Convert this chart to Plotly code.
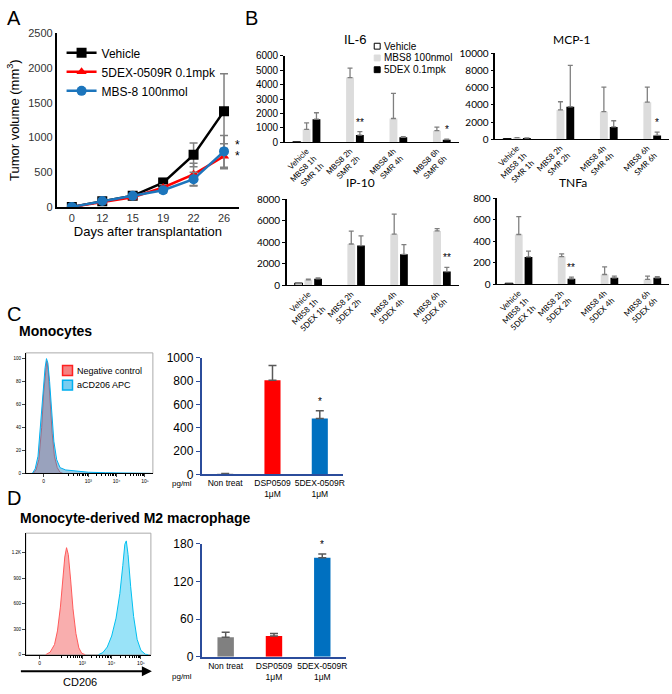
import numpy as np
import plotly.graph_objects as go

W, H = 672, 694
def px_x(p): return p / W
def px_y(p): return 1 - p / H

# ---------------- Panel A data ----------------
days = ["0", "12", "15", "19", "22", "26"]
vehicle_vol = [0, 80, 160, 350, 750, 1380]
vehicle_err = [0, 20, 20, 60, 170, 540]
dex_vol = [0, 70, 140, 280, 470, 730]
dex_err = [0, 15, 20, 40, 160, 180]
mbs_vol = [0, 85, 160, 240, 400, 800]
mbs_err = [0, 15, 20, 40, 100, 230]

# ---------------- Panel B data ----------------
cats_smr = ["Vehicle<br>MBS8 1h<br>SMR 1h", "MBS8 2h<br>SMR 2h", "MBS8 4h<br>SMR 4h", "MBS8 6h<br>SMR 6h"]
cats_dex = ["Vehicle<br>MBS8 1h<br>5DEX 1h", "MBS8 2h<br>5DEX 2h", "MBS8 4h<br>5DEX 4h", "MBS8 6h<br>5DEX 6h"]
b_series = ["Vehicle", "MBS8 100nmol", "5DEX 0.1mpk"]

il6_veh = [30, None, None, None]
il6_mbs = [900, 4500, 1650, 800]
il6_mbs_err = [450, 650, 1750, 250]
il6_dex = [1600, 500, 340, 180]
il6_dex_err = [450, 230, 40, 40]

mcp_veh = [80, None, None, None]
mcp_mbs = [200, 3400, 3200, 4300]
mcp_mbs_err = [0, 950, 2840, 1750]
mcp_dex = [150, 3770, 1430, 450]
mcp_dex_err = [0, 4800, 720, 380]

ip_veh = [210, None, None, None]
ip_mbs = [510, 3830, 4740, 5040]
ip_mbs_err = [50, 1200, 1870, 220]
ip_dex = [600, 3680, 2870, 1270]
ip_dex_err = [80, 900, 900, 390]

tnf_veh = [10, None, None, None]
tnf_mbs = [462, 257, 91, 45]
tnf_mbs_err = [166, 25, 70, 30]
tnf_dex = [254, 51, 60, 60]
tnf_dex_err = [54, 15, 15, 10]

# ---------------- Panel C / D bar data ----------------
treat_cats = ["Non treat", "DSP0509<br>1μM", "5DEX-0509R<br>1μM"]
c_vals = [5, 808, 479]
c_err = [3, 125, 67]
d_vals = [31, 33, 158]
d_err = [8, 4, 6]
bar_colors = ["#808080", "#FF0000", "#0070C0"]

# ---------------- Histogram data (flow cytometry) ----------------
hist_names = ["Negative control", "aCD206 APC"]
hc_neg_x = [1.05, 1.15, 1.25, 1.35, 1.42, 1.48, 1.53, 1.58, 1.65, 1.72, 1.80, 1.90, 2.00, 2.10]
hc_neg_y = [0, 3, 12, 40, 70, 88, 98, 90, 62, 35, 15, 5, 1, 0]
hc_cd_x = [1.02, 1.12, 1.22, 1.32, 1.40, 1.47, 1.52, 1.57, 1.63, 1.70, 1.78, 1.88, 2.00, 2.20, 2.50, 3.00, 3.60, 4.30, 5.20]
hc_cd_y = [0, 4, 15, 45, 72, 92, 100, 96, 80, 55, 28, 12, 5, 3, 2, 1, 0.6, 0.3, 0]

hd_neg_x = [1.75, 1.90, 2.05, 2.15, 2.25, 2.33, 2.40, 2.46, 2.52, 2.60, 2.68, 2.78, 2.88, 2.98, 3.10]
hd_neg_y = [0, 30, 120, 280, 560, 880, 1150, 1260, 1180, 880, 540, 250, 80, 15, 0]
hd_cd_x = [3.55, 3.70, 3.85, 4.00, 4.15, 4.28, 4.38, 4.45, 4.50, 4.56, 4.65, 4.75, 4.87, 5.00, 5.15, 5.25]
hd_cd_y = [0, 25, 90, 220, 430, 720, 1050, 1300, 1340, 1180, 800, 450, 180, 50, 5, 0]

FONT = "Liberation Sans, Arial, sans-serif"
CAL = "Lato, Liberation Sans, sans-serif"
GREY_ERR = "#7F7F7F"
VEH_STYLE = dict(color="white", line=dict(color="black", width=1))
MBS_STYLE = dict(color="#DCDCDC", line=dict(width=0))
DEX_STYLE = dict(color="black", line=dict(width=0))

fig = go.Figure()

# ---------------- Panel A ----------------
for name, y, e, col, sym, size in [
    ("Vehicle", vehicle_vol, vehicle_err, "#000000", "square", 10),
    ("5DEX-0509R 0.1mpk", dex_vol, dex_err, "#FF0000", "triangle-up", 9),
    ("MBS-8 100nmol", mbs_vol, mbs_err, "#1C75BC", "circle", 10),
]:
    fig.add_trace(go.Scatter(
        x=days, y=y, name=name, mode="lines+markers",
        line=dict(color=col, width=2.5),
        marker=dict(symbol=sym, size=size, color=col),
        error_y=dict(type="data", array=e, color=GREY_ERR, thickness=1.5, width=4),
        xaxis="x", yaxis="y"))

# ---------------- Panel B ----------------
def add_cyto(cats, veh, mbs, mbs_err, dex, dex_err, ax):
    zeros = [0, 0, 0, 0]
    fig.add_trace(go.Bar(x=cats, y=veh, name=b_series[0], marker=VEH_STYLE,
                         xaxis="x" + ax, yaxis="y" + ax, showlegend=False))
    fig.add_trace(go.Bar(x=cats, y=mbs, name=b_series[1], marker=MBS_STYLE,
                         error_y=dict(type="data", array=mbs_err, arrayminus=zeros, symmetric=False,
                                      color=GREY_ERR, thickness=1.3, width=2.5),
                         xaxis="x" + ax, yaxis="y" + ax, showlegend=False))
    fig.add_trace(go.Bar(x=cats, y=dex, name=b_series[2], marker=DEX_STYLE,
                         error_y=dict(type="data", array=dex_err, arrayminus=zeros, symmetric=False,
                                      color=GREY_ERR, thickness=1.3, width=2.5),
                         xaxis="x" + ax, yaxis="y" + ax, showlegend=False))

add_cyto(cats_smr, il6_veh, il6_mbs, il6_mbs_err, il6_dex, il6_dex_err, "2")
add_cyto(cats_smr, mcp_veh, mcp_mbs, mcp_mbs_err, mcp_dex, mcp_dex_err, "3")
add_cyto(cats_dex, ip_veh, ip_mbs, ip_mbs_err, ip_dex, ip_dex_err, "4")
add_cyto(cats_dex, tnf_veh, tnf_mbs, tnf_mbs_err, tnf_dex, tnf_dex_err, "5")

# ---------------- Panel C histogram ----------------
fig.add_trace(go.Scatter(x=hc_neg_x, y=hc_neg_y, name=hist_names[0], mode="lines", fill="tozeroy",
                         line=dict(color="#FF3030", width=1), fillcolor="rgba(255,90,90,0.55)",
                         xaxis="x6", yaxis="y6", showlegend=False))
fig.add_trace(go.Scatter(x=hc_cd_x, y=hc_cd_y, name=hist_names[1], mode="lines", fill="tozeroy",
                         line=dict(color="#00B0F0", width=1), fillcolor="rgba(70,160,210,0.55)",
                         xaxis="x6", yaxis="y6", showlegend=False))

# ---------------- Panel C bars ----------------
fig.add_trace(go.Bar(x=treat_cats, y=c_vals, marker=dict(color=bar_colors, line=dict(width=0)), width=0.34,
                     error_y=dict(type="data", array=c_err, arrayminus=[0, 0, 0], symmetric=False,
                                  color="#595959", thickness=1.5, width=4),
                     xaxis="x7", yaxis="y7", showlegend=False))

# ---------------- Panel D histogram ----------------
fig.add_trace(go.Scatter(x=hd_neg_x, y=hd_neg_y, mode="lines", fill="tozeroy",
                         line=dict(color="#FF5A5A", width=1), fillcolor="rgba(245,120,120,0.6)",
                         xaxis="x8", yaxis="y8", showlegend=False))
fig.add_trace(go.Scatter(x=hd_cd_x, y=hd_cd_y, mode="lines", fill="tozeroy",
                         line=dict(color="#00C0F0", width=1), fillcolor="rgba(110,215,245,0.7)",
                         xaxis="x8", yaxis="y8", showlegend=False))

# ---------------- Panel D bars ----------------
fig.add_trace(go.Bar(x=treat_cats, y=d_vals, marker=dict(color=bar_colors, line=dict(width=0)), width=0.34,
                     error_y=dict(type="data", array=d_err, arrayminus=[0, 0, 0], symmetric=False,
                                  color="#595959", thickness=1.5, width=4),
                     xaxis="x9", yaxis="y9", showlegend=False))

# ---------------- Axes ----------------
def xdom(a, b): return [px_x(a), px_x(b)]
def ydom(bot, top): return [px_y(bot), px_y(top)]

lay = dict(
    width=W, height=H, margin=dict(l=0, r=0, t=0, b=0),
    paper_bgcolor="white", plot_bgcolor="white",
    font=dict(family=FONT, color="black", size=11),
    barmode="group", bargap=0.32, bargroupgap=0.2,
)

lay["xaxis"] = dict(domain=xdom(53, 237), range=[-0.5, 5.5], type="category", showline=True, linecolor="black",
                    linewidth=1.5, ticks="", showgrid=False, zeroline=False, tickfont=dict(size=11, color="#333"),
                    title=dict(text="Days after transplantation", font=dict(size=13), standoff=4), anchor="y")
lay["yaxis"] = dict(domain=ydom(204, 27), range=[0, 2500], dtick=500, showline=True, linecolor="black",
                    linewidth=1.5, ticks="", showgrid=False, zeroline=False, tickfont=dict(size=11, color="#333"),
                    title=dict(text="Tumor volume (mm<sup>3</sup>)", font=dict(size=13), standoff=6), anchor="x")

b_specs = {
    "2": (283, 458, 138, 50, 6000, 1000, FONT, 10),
    "3": (495, 670, 135, 47, 10000, 2000, CAL, 10),
    "4": (285, 458, 284, 196, 8000, 2000, CAL, 10),
    "5": (497, 670, 283, 195, 800, 200, CAL, 10),
}
for k, (x0, x1, yb, yt, ymax, dt, fam, fs) in b_specs.items():
    lay["xaxis" + k] = dict(domain=xdom(x0, x1), range=[-0.5, 3.5], type="category", showline=True,
                            linecolor="black", linewidth=1.2, ticks="", tickangle=-45, showgrid=False,
                            zeroline=False, tickfont=dict(size=8, family=fam), anchor="y" + k)
    lay["yaxis" + k] = dict(domain=ydom(yb, yt), range=[0, ymax], dtick=dt, showline=True, linecolor="black",
                            linewidth=1.5, ticks="outside", ticklen=3, tickcolor="black", showgrid=False,
                            zeroline=False, tickfont=dict(size=fs, family=fam), anchor="x" + k,
                            tickformat="d")

minor_vals = [d + np.log10(k) for d in (2, 3, 4) for k in range(2, 10)]
lay["xaxis6"] = dict(domain=xdom(22, 150), range=[0.79, 5.28], tickvals=[1.42, 3, 4, 5],
                     ticktext=["0", "10³", "10⁴", "10⁵"], showline=True, linecolor="black", linewidth=1,
                     ticks="outside", ticklen=3, showgrid=False, zeroline=False, tickfont=dict(size=5),
                     minor=dict(tickvals=minor_vals, ticks="outside", ticklen=2, tickcolor="black"), anchor="y6")
lay["yaxis6"] = dict(domain=ydom(476, 353), range=[0, 105], tickvals=[0, 20, 40, 60, 80, 100], showline=True,
                     linecolor="black", linewidth=1, ticks="outside", ticklen=3, showgrid=False, zeroline=False,
                     tickfont=dict(size=4.5), anchor="x6")
BL = "#2B4C9B"
lay["xaxis7"] = dict(domain=xdom(199, 342), range=[-0.5, 2.5], type="category", showline=True, linecolor=BL,
                     linewidth=1.5, ticks="", tickangle=0, showgrid=False, zeroline=False,
                     tickfont=dict(size=8.5), anchor="y7")
lay["yaxis7"] = dict(domain=ydom(477, 358), range=[0, 1000], dtick=200, showline=True, linecolor=BL,
                     linewidth=1.5, ticks="outside", ticklen=4, tickcolor=BL, showgrid=False, zeroline=False,
                     tickfont=dict(size=12), anchor="x7")
lay["xaxis8"] = dict(domain=xdom(22, 148), range=[1.07, 5.34], tickvals=[1.54, 3, 4, 5],
                     ticktext=["0", "10³", "10⁴", "10⁵"], showline=True, linecolor="black", linewidth=1,
                     ticks="outside", ticklen=3, showgrid=False, zeroline=False, tickfont=dict(size=5),
                     minor=dict(tickvals=minor_vals, ticks="outside", ticklen=2, tickcolor="black"), anchor="y8")
lay["yaxis8"] = dict(domain=ydom(661, 537), range=[0, 1431], tickvals=[0, 300, 600, 900, 1200],
                     ticktext=["0", "300", "600", "900", "1.2K"], showline=True, linecolor="black", linewidth=1,
                     ticks="outside", ticklen=3, showgrid=False, zeroline=False, tickfont=dict(size=4.5), anchor="x8")
lay["xaxis9"] = dict(domain=xdom(199, 345), range=[-0.5, 2.5], type="category", showline=True, linecolor=BL,
                     linewidth=1.5, ticks="", tickangle=0, showgrid=False, zeroline=False,
                     tickfont=dict(size=8.5), anchor="y9")
lay["yaxis9"] = dict(domain=ydom(663, 548), range=[0, 180], dtick=60, showline=True, linecolor=BL,
                     linewidth=1.5, ticks="outside", ticklen=4, tickcolor=BL, showgrid=False, zeroline=False,
                     tickfont=dict(size=12), anchor="x9")

lay["legend"] = dict(x=px_x(58), y=px_y(32), xanchor="left", yanchor="top", bgcolor="rgba(0,0,0,0)",
                     font=dict(size=12), tracegroupgap=0, itemwidth=30)

fig.update_layout(**lay)

for k in ("6", "8"):
    fig.add_shape(type="rect", xref=f"x{k} domain", yref=f"y{k} domain", x0=0, x1=1, y0=0, y1=1,
                  line=dict(color="#AAAAAA", width=1), layer="below")

ann = []
def txt(x, y, t, size=11, anchor="left", bold=False, fam=FONT, color="black"):
    ann.append(dict(x=px_x(x), y=px_y(y), xref="paper", yref="paper", text=("<b>%s</b>" % t) if bold else t,
                    showarrow=False, xanchor=anchor, yanchor="middle",
                    font=dict(size=size, family=fam, color=color)))

def swatch(x0, y0, size, fill, line, lw=1):
    fig.add_shape(type="rect", xref="paper", yref="paper", x0=px_x(x0), x1=px_x(x0 + size),
                  y0=px_y(y0 + size), y1=px_y(y0), fillcolor=fill, line=dict(color=line, width=lw))

b_leg_styles = [("white", "black"), ("#DCDCDC", "#DCDCDC"), ("black", "black")]
for i, (nm, (fc, lc)) in enumerate(zip(b_series, b_leg_styles)):
    yc = 40 + 12 * i
    swatch(373, yc - 3, 6, fc, lc)
    txt(381, yc, nm, 10)

c_leg_styles = [("rgba(245,130,130,1)", "#FF2020"), ("rgba(120,205,240,1)", "#00B0F0")]
for i, (nm, (fc, lc)) in enumerate(zip(hist_names, c_leg_styles)):
    yc = 371 + 15 * i
    swatch(59, yc - 5, 10, fc, lc, lw=1.5)
    txt(72, yc, nm, 9)

txt(1, 11, "A", 20)
txt(241, 11, "B", 20)
txt(1, 313, "C", 20)
txt(1, 501, "D", 20)
txt(13, 331, "Monocytes", 14, bold=True)
txt(14, 522, "Monocyte-derived M2 macrophage", 14, bold=True)
txt(77, 689, "CD206", 11, anchor="center")
txt(179, 486, "pg/ml", 8, anchor="center")
txt(179, 683, "pg/ml", 8, anchor="center")
txt(354, 33, "IL-6", 13, anchor="center")
txt(572, 33, "MCP-1", 12, anchor="center", fam=CAL)
txt(359, 179, "IP-10", 12, anchor="center", fam=CAL)
txt(573, 179, "TNFa", 12, anchor="center", fam=CAL)

ann.append(dict(x=px_x(149), y=px_y(678), xref="paper", yref="paper", ax=-134, ay=0, text=" ",
                showarrow=True, arrowhead=2, arrowsize=1, arrowwidth=2, arrowcolor="black"))

def star(ax, xcat, yval, s, xoff=0.0, yshift=2, size=10):
    ann.append(dict(x=xcat + xoff, y=yval, xref="x" + ax, yref="y" + ax, text=s, showarrow=False,
                    yanchor="bottom", yshift=yshift, font=dict(size=size, color="black")))

off = (1 - 0.32) / 3
star("", 5, mbs_vol[-1], "*", xoff=0.45, yshift=-3, size=12)
star("", 5, dex_vol[-1], "*", xoff=0.45, yshift=-9, size=12)
star("2", 1, il6_dex[1] + il6_dex_err[1], "**", xoff=off)
star("2", 3, il6_dex[3] + il6_dex_err[3], "*", xoff=off)
star("3", 3, mcp_dex[3] + mcp_dex_err[3], "*", xoff=off)
star("4", 3, ip_dex[3] + ip_dex_err[3], "**", xoff=off)
star("5", 1, tnf_dex[1] + tnf_dex_err[1], "**", xoff=off)
star("7", 2, c_vals[2] + c_err[2], "*")
star("9", 2, d_vals[2] + d_err[2], "*")

fig.update_layout(annotations=ann)
fig.write_html("out.html", config={"displayModeBar": False},
               post_script="document.body.style.margin='0px';document.body.style.overflow='hidden';"
                           "document.documentElement.style.overflow='hidden';")
